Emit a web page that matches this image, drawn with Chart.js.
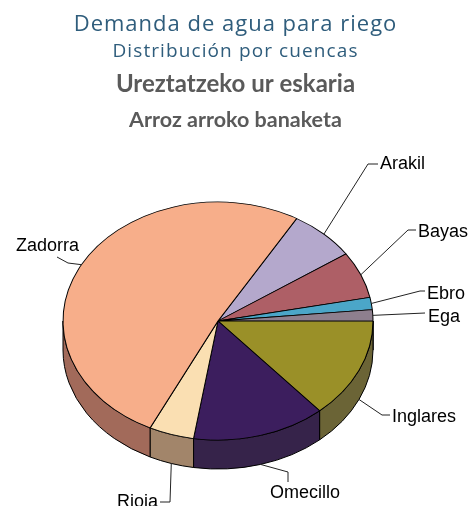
<!DOCTYPE html>
<html>
<head>
<meta charset="utf-8">
<script src="https://cdn.jsdelivr.net/npm/chart.js@4/dist/chart.umd.min.js"></script>
<style>
  html, body { margin: 0; padding: 0; background: #fff; }
  canvas { display: block; }
</style>
</head>
<body>
<canvas id="grafico" width="471" height="506"></canvas>
<script>
// datos: demanda de agua para riego por cuenca (%)
const cuencas = ["Arakil", "Bayas", "Ebro", "Ega", "Inglares", "Omecillo", "Rioja", "Zadorra"];
const demanda = [7.0, 6.35, 1.65, 1.55, 13.6, 13.9, 4.7, 51.25];

const titulos = ["Demanda de agua para riego", "Distribución por cuencas"];
const subtitulos = ["Ureztatzeko ur eskaria", "Arroz arroko banaketa"];

const coloresTapa = ["#B4A8CC", "#AE5F66", "#4BA6C8", "#8E7F8E", "#9A9028", "#3C1E5E", "#FADFB2", "#F7AE8A"];
const coloresLado = ["#7E7590", "#7A4348", "#35748C", "#645964", "#6B6436", "#36234A", "#A2856A", "#A26A5A"];

// elipse de la tarta en pantalla
const CX = 218, CY = 321, RX = 155, RY = 119, FONDO = 29;

// posicion de cada etiqueta: codos de la linea y texto
const etiquetas = [
  { codos: [[368, 164], [378, 164]], x: 380, y: 164, align: "left" },
  { codos: [[408, 230], [416, 230]], x: 418, y: 232, align: "left" },
  { codos: [[420, 291], [425, 291]], x: 427, y: 294, align: "left" },
  { codos: [[425, 313]], x: 428, y: 317, align: "left" },
  { codos: [[382, 415], [390, 415]], x: 392, y: 417, align: "left" },
  { codos: [[288, 472], [288, 482]], x: 305, y: 493, align: "center" },
  { codos: [[170, 502], [160, 502]], x: 158, y: 502, align: "right" },
  { codos: [[68, 263], [57, 257]], x: 79, y: 246, align: "right" },
];

function puntoElipse(a, dy) {
  return [CX + RX * Math.cos(a), CY + dy + RY * Math.sin(a)];
}

// dibuja los laterales y aplasta el circulo en una elipse
const tarta3d = {
  id: "tarta3d",
  beforeDatasetsDraw(chart) {
    const ctx = chart.ctx;
    const meta = chart.getDatasetMeta(0);
    ctx.save();
    ctx.lineWidth = 1;
    ctx.strokeStyle = "#000";
    meta.data.forEach((arc, i) => {
      for (let k = -1; k <= 2; k++) {
        const s = Math.max(arc.startAngle, 2 * Math.PI * k);
        const e = Math.min(arc.endAngle, 2 * Math.PI * k + Math.PI);
        if (e <= s) continue;
        ctx.beginPath();
        ctx.ellipse(CX, CY, RX, RY, 0, s, e, false);
        const p = puntoElipse(e, FONDO);
        ctx.lineTo(p[0], p[1]);
        ctx.ellipse(CX, CY + FONDO, RX, RY, 0, e, s, true);
        ctx.closePath();
        ctx.fillStyle = coloresLado[i];
        ctx.fill();
        ctx.stroke();
      }
    });
    ctx.restore();

    const a0 = meta.data[0];
    const R = a0.outerRadius;
    ctx.save();
    ctx.translate(CX, CY);
    ctx.scale(RX / R, RY / R);
    ctx.translate(-a0.x, -a0.y);
  },
  afterDatasetsDraw(chart) {
    const ctx = chart.ctx;
    ctx.restore();

    const meta = chart.getDatasetMeta(0);
    ctx.save();
    ctx.font = '18px "Liberation Sans", Arial, sans-serif';
    ctx.textBaseline = "middle";
    ctx.fillStyle = "#000";
    ctx.strokeStyle = "#222";
    ctx.lineWidth = 1;
    meta.data.forEach((arc, i) => {
      const et = etiquetas[i];
      let mid = (arc.startAngle + arc.endAngle) / 2;
      mid = ((mid % (2 * Math.PI)) + 2 * Math.PI) % (2 * Math.PI);
      const anc = puntoElipse(mid, mid < Math.PI ? FONDO : 0);
      ctx.beginPath();
      ctx.moveTo(anc[0], anc[1]);
      et.codos.forEach(p => ctx.lineTo(p[0], p[1]));
      ctx.stroke();
      ctx.textAlign = et.align;
      ctx.fillText(chart.data.labels[i], et.x, et.y);
    });
    ctx.restore();
  },
  afterDraw(chart) {
    const ctx = chart.ctx;
    const mx = chart.width / 2;
    ctx.save();
    ctx.textAlign = "center";
    ctx.textBaseline = "middle";
    ctx.fillStyle = "#2F5D7C";
    ctx.letterSpacing = "1px";
    ctx.font = '22px "Open Sans", sans-serif';
    ctx.fillText(titulos[0], mx, 25);
    ctx.letterSpacing = "1.1px";
    ctx.font = '19px "Open Sans", sans-serif';
    ctx.fillText(titulos[1], mx, 52);
    ctx.letterSpacing = "0px";
    ctx.fillStyle = "#5A5A5A";
    ctx.font = 'bold 24px Lato, sans-serif';
    ctx.fillText(subtitulos[0], mx, 84);
    ctx.font = 'bold 21.5px Lato, sans-serif';
    ctx.fillText(subtitulos[1], mx, 120);
    ctx.restore();
  }
};

function crearGrafico() {
  const ctx = document.getElementById("grafico").getContext("2d");
  new Chart(ctx, {
    type: "pie",
    data: {
      labels: cuencas,
      datasets: [{
        data: demanda,
        backgroundColor: coloresTapa,
        borderColor: "#000",
        borderWidth: 1,
        clip: false,
      }],
    },
    options: {
      responsive: false,
      animation: false,
      events: [],
      rotation: 30.5,
      layout: { padding: { left: 80, right: 80, top: 100, bottom: 96 } },
      plugins: {
        legend: { display: false },
        tooltip: { enabled: false },
      },
    },
    plugins: [tarta3d],
  });
}

crearGrafico();
</script>
</body>
</html>
